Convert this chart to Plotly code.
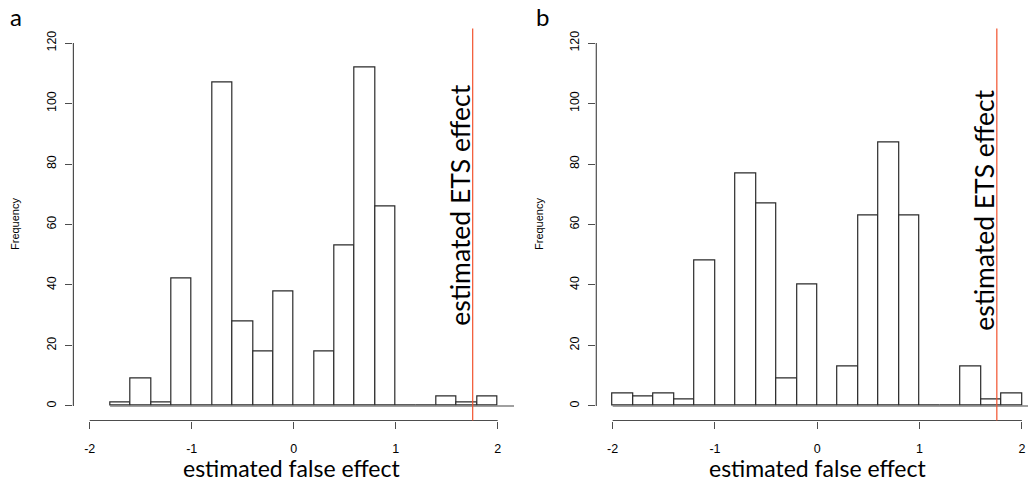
import plotly.graph_objects as go

# ---- data ----
bin_width = 0.2
a_starts = [-1.8, -1.6, -1.4, -1.2, -1.0, -0.8, -0.6, -0.4, -0.2, 0.0, 0.2, 0.4, 0.6, 0.8,
            1.0, 1.2, 1.4, 1.6, 1.8]
a_counts = [1, 9, 1, 42, 0, 107, 28, 18, 38, 0, 18, 53, 112, 66, 0, 0, 3, 1, 3]
b_starts = [-2.0, -1.8, -1.6, -1.4, -1.2, -1.0, -0.8, -0.6, -0.4, -0.2, 0.0, 0.2, 0.4, 0.6,
            0.8, 1.0, 1.2, 1.4, 1.6, 1.8]
b_counts = [4, 3, 4, 2, 48, 0, 77, 67, 9, 40, 0, 13, 63, 87, 63, 0, 0, 13, 2, 4]
ets_effect = 1.755
x_ticks = [-2, -1, 0, 1, 2]
x_tick_labels = ["-2", "-1", "0", "1", "2"]
y_ticks = [0, 20, 40, 60, 80, 100, 120]
panel_labels = ["a", "b"]
x_title = "estimated false effect"
y_title = "Frequency"
ets_label = "estimated ETS effect"

W, H = 1028, 485
AX = "#4d4d4d"
RED = "#f2522e"
TXT_FONT = "Lato, Open Sans, sans-serif"
TICK_FONT = "Liberation Sans, Arial, sans-serif"

fig = go.Figure()

panels = [
    dict(starts=a_starts, counts=a_counts, xa="x", ya="y", xdom=[73.4 / W, 514 / W],
         xrange=[-2.16, 2.16], label=panel_labels[0], lab_x=16, freq_x=15, ets_y=205, title_x=291),
    dict(starts=b_starts, counts=b_counts, xa="x2", ya="y2", xdom=[596.3 / W, 1.0],
         xrange=[-2.16, -2 + (W - 612.7) / 102.3], label=panel_labels[1], lab_x=542, freq_x=539,
         ets_y=210, title_x=817),
]
ydom = [(H - 420.5) / H, (H - 28.5) / H]

for i, p in enumerate(panels):
    centers = [s + bin_width / 2 for s in p["starts"]]
    fig.add_trace(go.Bar(x=centers, y=p["counts"], width=bin_width, xaxis=p["xa"], yaxis=p["ya"],
                         marker=dict(color="white", line=dict(color="#2a2a2a", width=1.2)),
                         showlegend=False, hoverinfo="skip"))
    sfx = "" if i == 0 else "2"
    xref, yref = p["xa"], p["ya"]
    # baseline
    fig.add_shape(type="line", xref=xref, yref=yref, x0=p["starts"][0], x1=p["xrange"][1],
                  y0=0, y1=0, line=dict(color="#808080", width=1.5))
    # axis lines (R style: only between end ticks)
    fig.add_shape(type="line", xref=xref, yref=yref + " domain", x0=x_ticks[0], x1=x_ticks[-1],
                  y0=0, y1=0, line=dict(color=AX, width=1.2))
    fig.add_shape(type="line", xref=xref + " domain", yref=yref, x0=0, x1=0,
                  y0=y_ticks[0], y1=y_ticks[-1], line=dict(color=AX, width=1.2))
    # ETS line
    fig.add_shape(type="line", xref=xref, yref=yref + " domain", x0=ets_effect, x1=ets_effect,
                  y0=0, y1=1, line=dict(color=RED, width=1.2))
    fig.add_annotation(x=ets_effect, xref=xref, y=(H - p["ets_y"]) / H, yref="paper",
                       text=ets_label, textangle=-90, showarrow=False, xshift=-13,
                       xanchor="center", yanchor="middle",
                       font=dict(family=TXT_FONT, size=26.5, color="black"))
    fig.add_annotation(x=p["title_x"] / W, xref="paper", y=(H - 468) / H, yref="paper",
                       text=x_title, showarrow=False, xanchor="center", yanchor="middle",
                       font=dict(family=TXT_FONT, size=23, color="black"))
    fig.add_annotation(x=p["freq_x"] / W, xref="paper", y=(H - 224) / H, yref="paper",
                       text=y_title, textangle=-90, showarrow=False,
                       xanchor="center", yanchor="middle",
                       font=dict(family=TICK_FONT, size=11, color="black"))
    fig.add_annotation(x=p["lab_x"] / W, xref="paper", y=(H - 17) / H, yref="paper",
                       text=p["label"], showarrow=False, xanchor="center", yanchor="middle",
                       font=dict(family=TXT_FONT, size=24, color="black"))

    common_x = dict(domain=p["xdom"], range=p["xrange"], tickvals=x_ticks, ticktext=x_tick_labels,
                    ticks="outside",
                    ticklen=7, tickcolor=AX, showline=False, showgrid=False, zeroline=False,
                    tickfont=dict(family=TICK_FONT, size=12.5, color="black"),
                    ticklabelstandoff=9, anchor=p["ya"])
    common_y = dict(domain=ydom, range=[-4.8, 124.8], tickvals=y_ticks, ticks="outside",
                    ticklen=7, tickcolor=AX, showline=False, showgrid=False, zeroline=False,
                    tickangle=-90, tickfont=dict(family=TICK_FONT, size=12.5, color="black"),
                    ticklabelstandoff=4, anchor=p["xa"])
    fig.update_layout(**{"xaxis" + sfx: common_x, "yaxis" + sfx: common_y})

fig.update_layout(width=W, height=H, margin=dict(l=0, r=0, t=0, b=0),
                  paper_bgcolor="white", plot_bgcolor="white", bargap=0)
fig.write_html("out.html")
